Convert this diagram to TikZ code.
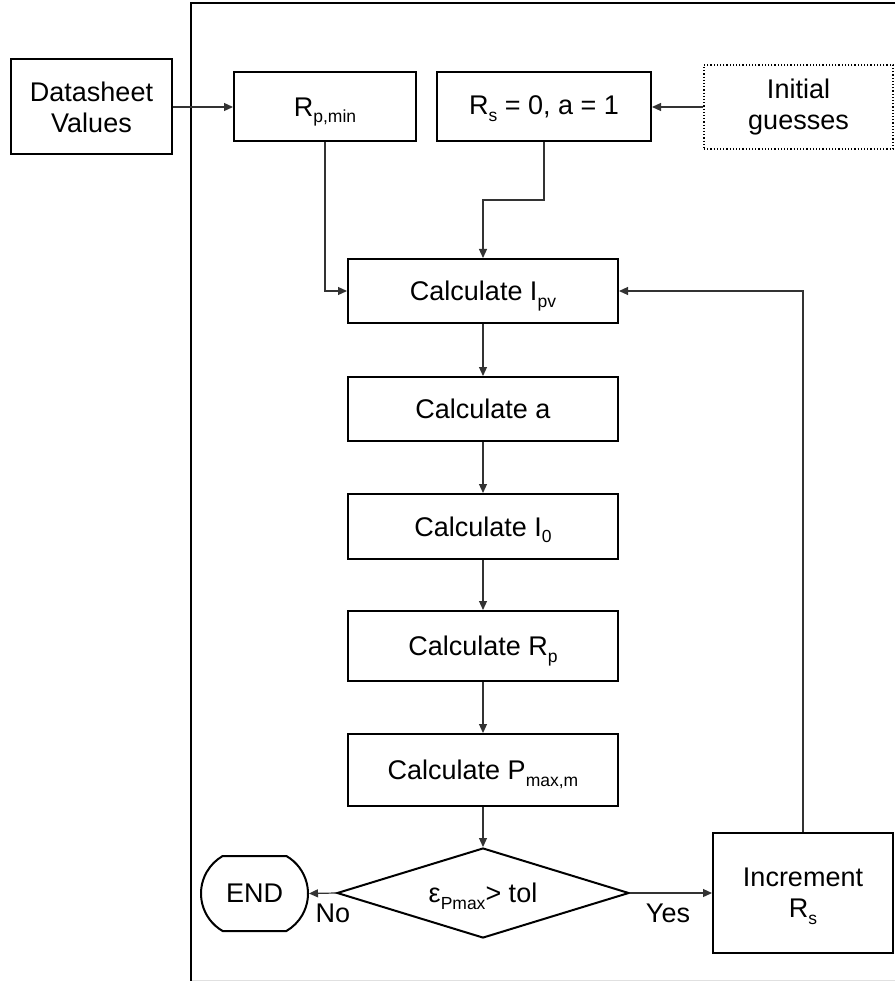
\documentclass[tikz,border=0pt]{standalone}
\usepackage{fontspec}
\setmainfont{Liberation Sans}
\usetikzlibrary{arrows.meta,shapes.geometric,shapes.misc}
\newcommand\mysub[1]{\smash{\raisebox{-6.5pt}{\fontsize{17.5}{20}\selectfont #1}}}
\tikzset{
  mainfont/.style={font=\fontsize{27}{31}\selectfont},
  box/.style={draw=black, line width=2pt, rectangle, align=center, inner sep=0pt, mainfont},
  dotbox/.style={box, line width=1.2pt, dotted},
  decbox/.style={draw=black, line width=2pt, diamond, aspect=3.24, inner sep=0pt, minimum width=292pt, minimum height=90pt, mainfont},
  endbox/.style={draw=black, line width=2pt, rounded rectangle, rounded rectangle arc length=120, inner sep=0pt, minimum width=107pt, minimum height=75pt, mainfont},
  conn/.style={draw=black!80, line width=1.2pt, -{Triangle[length=9pt,width=8pt]}},
  lbl/.style={mainfont, inner sep=0pt}
}
\begin{document}
\begin{tikzpicture}[x=1pt,y=-1pt]
\useasboundingbox (0,0) rectangle (895,981);
% outer frame
\draw[line width=2pt] (895,3) -- (191,3) -- (191,981);
\draw[black!12, line width=1pt] (192,980) -- (895,980);

% top row
\node[box, minimum width=161pt, minimum height=95pt] (ds) at (91.5,107) {Datasheet\\Values};
\node[box, minimum width=182pt, minimum height=69pt] (rpmin) at (325,107) {R\mysub{p,min}};
\node[box, minimum width=214pt, minimum height=69pt] (rs0) at (544,107) {R\mysub{s} = 0, a = 1};
\node[dotbox, minimum width=189pt, minimum height=84pt] (init) at (798.5,107) {Initial\\guesses};

% main column
\node[box, minimum width=270pt, minimum height=64pt] (ipv) at (483,291) {Calculate I\mysub{pv}};
\node[box, minimum width=270pt, minimum height=64pt] (calca) at (483,409) {Calculate a};
\node[box, minimum width=270pt, minimum height=65pt] (i0) at (483,526.5) {Calculate I\mysub{0}};
\node[box, minimum width=270pt, minimum height=70pt] (rp) at (483,646) {Calculate R\mysub{p}};
\node[box, minimum width=270pt, minimum height=72pt] (pmax) at (483,770) {Calculate P\mysub{max,m}};
\node[decbox] (dec) at (483,893) {ε\mysub{Pmax}> tol};
\node[endbox] (end) at (254.5,893.5) {END};
\node[box, minimum width=180pt, minimum height=120pt] (inc) at (803,893) {Increment\\R\mysub{s}};

% labels
\node[lbl] (no) at (333,913) {No};
\node[lbl] (yes) at (668,913) {Yes};

% connectors
\coordinate (bend) at (483,200);
\draw[conn] (ds) -- (rpmin);
\draw[conn] (init) -- (rs0);
\draw[conn] (rpmin.south) |- (ipv.west);
\draw[conn] (rs0.south) |- (bend) -- (ipv.north);
\draw[conn] (ipv) -- (calca);
\draw[conn] (calca) -- (i0);
\draw[conn] (i0) -- (rp);
\draw[conn] (rp) -- (pmax);
\draw[conn] (pmax) -- (dec);
\draw[conn] (dec.west) -- (end.east);
\draw[conn] (dec.east) -- (inc.west);
\draw[conn] (inc.north) |- (ipv.east);
\end{tikzpicture}
\end{document}
